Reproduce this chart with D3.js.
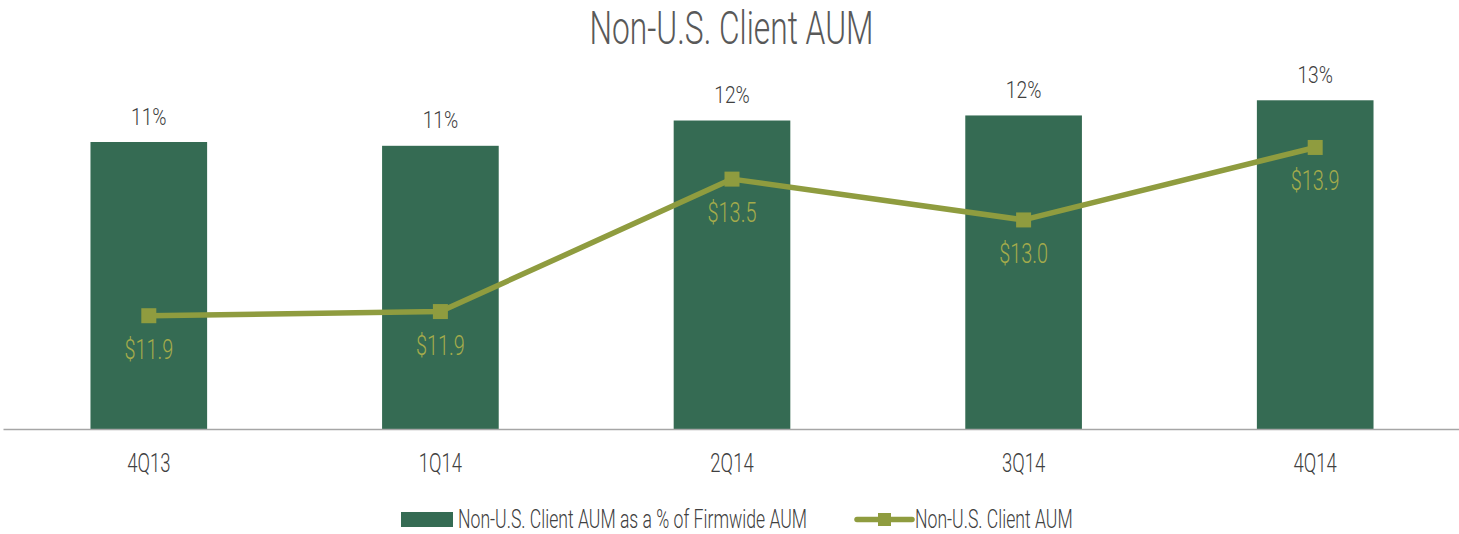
<!DOCTYPE html>
<html>
<head>
<meta charset="utf-8">
<script src="https://cdn.jsdelivr.net/npm/d3@7"></script>
<style>
  html, body { margin: 0; padding: 0; background: #ffffff; }
  svg { display: block; }
  text { font-family: Roboto, "Open Sans", sans-serif; font-weight: 300; }
</style>
</head>
<body>
<svg id="chart" width="1459" height="534"></svg>
<script>
const categories = ["4Q13", "1Q14", "2Q14", "3Q14", "4Q14"];
const pctOfFirmwide = [11.35, 11.2, 12.2, 12.4, 13.0];
const clientAUM = [11.86, 11.91, 13.5, 13.01, 13.88];
const titleText = "Non-U.S. Client AUM";
const barSeriesName = "Non-U.S. Client AUM as a % of Firmwide AUM";
const lineSeriesName = "Non-U.S. Client AUM";

const W = 1459, H = 534;
const BAR = "#356b53", LINE = "#8f9c3f", LINELABEL = "#a5ab4b", TXT = "#404040";

const svg = d3.select("#chart");

const x = d3.scaleBand().domain(categories).range([3, 1461]).paddingInner(0.6).paddingOuter(0.3);
const y1 = d3.scaleLinear().domain([0, 14]).range([429, 75]);
const y2 = d3.scaleLinear().domain([10.5, 14.75]).range([429, 75]);

// title
svg.append("text")
  .attr("transform", `translate(${W / 2 + 2},44) scale(0.69,1)`)
  .attr("text-anchor", "middle")
  .attr("font-size", 46)
  .attr("fill", "#595959")
  .text(titleText);

// bars
const data = categories.map((c, i) => ({ c, p: pctOfFirmwide[i], a: clientAUM[i] }));
svg.append("g").selectAll("rect").data(data).join("rect")
  .attr("x", d => x(d.c))
  .attr("y", d => y1(d.p))
  .attr("width", x.bandwidth())
  .attr("height", d => y1(0) - y1(d.p))
  .attr("fill", BAR);

// bar labels
svg.append("g").selectAll("text").data(data).join("text")
  .attr("transform", d => `translate(${x(d.c) + x.bandwidth() / 2},${y1(d.p) - 17.5}) scale(0.8,1)`)
  .attr("text-anchor", "middle")
  .attr("font-size", 24)
  .attr("fill", TXT)
  .text(d => d3.format(".0f")(d.p) + "%");

// axis
const axis = svg.append("g")
  .attr("transform", `translate(0,${y1(0)})`)
  .call(d3.axisBottom(x).tickSize(0).tickSizeOuter(0));
axis.select(".domain").attr("stroke", "#a6a6a6").attr("stroke-width", 1.6);
axis.selectAll(".tick text")
  .attr("y", 43).attr("dy", null)
  .attr("transform", "scale(0.74,1)")
  .attr("font-size", 25)
  .attr("font-family", "Roboto, sans-serif")
  .attr("font-weight", 300)
  .attr("fill", TXT);

// line
const line = d3.line().x(d => x(d.c) + x.bandwidth() / 2).y(d => y2(d.a));
svg.append("path").datum(data)
  .attr("d", line)
  .attr("fill", "none")
  .attr("stroke", LINE)
  .attr("stroke-width", 5.5)
  .attr("stroke-linejoin", "round");

const M = 15;
svg.append("g").selectAll("rect").data(data).join("rect")
  .attr("x", d => x(d.c) + x.bandwidth() / 2 - M / 2)
  .attr("y", d => y2(d.a) - M / 2)
  .attr("width", M).attr("height", M)
  .attr("fill", LINE);

svg.append("g").selectAll("text").data(data).join("text")
  .attr("transform", d => `translate(${x(d.c) + x.bandwidth() / 2},${y2(d.a) + 43}) scale(0.71,1)`)
  .attr("text-anchor", "middle")
  .attr("font-size", 28)
  .attr("fill", LINELABEL)
  .text(d => "$" + d.a.toFixed(1));

// legend
const lg = svg.append("g");
lg.append("rect").attr("x", 401).attr("y", 512).attr("width", 52).attr("height", 15).attr("fill", BAR);
lg.append("text")
  .attr("transform", "translate(458,527.5) scale(0.705,1)")
  .attr("font-size", 25)
  .attr("fill", TXT)
  .text(barSeriesName);
lg.append("line").attr("x1", 857).attr("x2", 912).attr("y1", 519.5).attr("y2", 519.5)
  .attr("stroke", LINE).attr("stroke-width", 5.5).attr("stroke-linecap", "round");
lg.append("rect").attr("x", 878).attr("y", 513).attr("width", 13).attr("height", 13).attr("fill", LINE);
lg.append("text")
  .attr("transform", "translate(915,527.5) scale(0.705,1)")
  .attr("font-size", 25)
  .attr("fill", TXT)
  .text(lineSeriesName);
</script>
</body>
</html>
